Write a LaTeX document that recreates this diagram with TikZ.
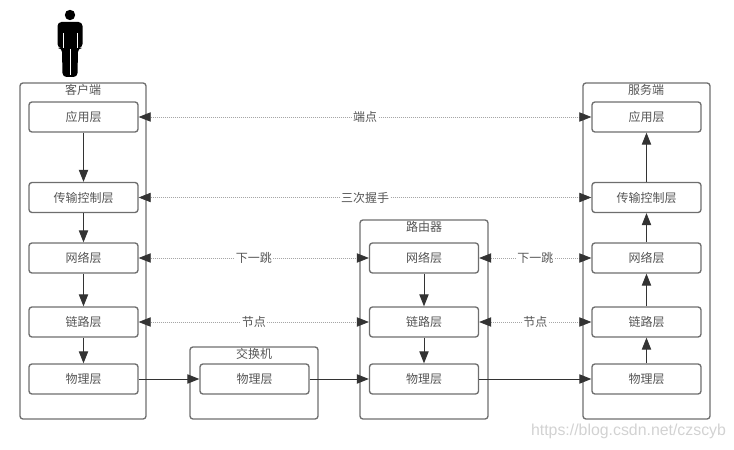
\documentclass[tikz,border=0pt]{standalone}
\usepackage{fontspec}
\setmainfont{Noto Sans CJK SC}
\newfontfamily\markfont{Liberation Sans}
\usetikzlibrary{arrows.meta}
\definecolor{edgegray}{HTML}{6E6E6E}
\definecolor{textgray}{HTML}{555555}
\definecolor{linkgray}{HTML}{333333}
\tikzset{%
	device/.style={
		draw=edgegray,
		line width=1pt,
		rounded corners=2.2pt,
		inner sep=0pt
	},
	layer/.style={
		device,
		fill=white,
		text=textgray,
		font=\fontsize{9pt}{9pt}\selectfont,
		minimum width=81.75pt,
		minimum height=22.5pt
	},
	title/.style={
		text=textgray,
		inner sep=0pt,
		font=\fontsize{9pt}{9pt}\selectfont
	},
	flow/.style={
		draw=linkgray,
		line width=0.7pt,
		-{Triangle[length=9pt,width=7pt]}
	},
	peer/.style={
		draw=gray!70,
		line width=0.5pt,
		densely dotted,
		{Triangle[length=9pt,width=7pt,color=linkgray]}-{Triangle[length=9pt,width=7pt,color=linkgray]}
	},
	peer label/.style={
		fill=white,
		text=textgray,
		inner sep=1pt,
		font=\fontsize{9pt}{9pt}\selectfont
	},
}
\begin{document}
\begin{tikzpicture}[x=0.75pt,y=-0.75pt]
			\useasboundingbox (0,0) rectangle (734,449);
			
			\fill[black] (70,15) circle (5.2);
			\fill[black, rounded corners=3pt] (57.5,48) -- (57.5,22) -- (82.5,22) -- (82.5,48) -- (78,48) -- (77.5,77) -- (62.5,77) -- (62,48) -- cycle;
			\draw[white, line width=0.6pt] (70,49) -- (70,75);
			\draw[white, line width=0.6pt] (63,33) -- (63,48);
			\draw[white, line width=0.6pt] (77,33) -- (77,48);
			
			\node[device, minimum width=94.5pt, minimum height=252pt] (client) at (83,251) {};
			\node[device, minimum width=95.25pt, minimum height=252pt] (server) at (646.5,251) {};
			\node[device, minimum width=96pt, minimum height=149.25pt] (router) at (424,319.5) {};
			\node[device, minimum width=96pt, minimum height=54pt] (switch) at (254,383) {};
			
			\node[title] (clientTitle) at (83,90) {客户端};
			\node[title] (serverTitle) at (646,90) {服务端};
			\node[title] (routerTitle) at (424,227) {路由器};
			\node[title] (switchTitle) at (254,354) {交换机};
			
			\node[layer] (clientApp) at (83.5,117) {应用层};
			\node[layer] (clientTrans) at (83.5,197.5) {传输控制层};
			\node[layer] (clientNet) at (83.5,258) {网络层};
			\node[layer] (clientLink) at (83.5,322) {链路层};
			\node[layer] (clientPhy) at (83.5,379) {物理层};
			
			\node[layer] (switchPhy) at (254.5,379) {物理层};
			
			\node[layer] (routerNet) at (424,258) {网络层};
			\node[layer] (routerLink) at (424,322) {链路层};
			\node[layer] (routerPhy) at (424,379) {物理层};
			
			\node[layer] (serverApp) at (646.5,117) {应用层};
			\node[layer] (serverTrans) at (646.5,197.5) {传输控制层};
			\node[layer] (serverNet) at (646.5,258) {网络层};
			\node[layer] (serverLink) at (646.5,322) {链路层};
			\node[layer] (serverPhy) at (646.5,379) {物理层};
			
			\draw[flow] (clientApp) -- (clientTrans);
			\draw[flow] (clientTrans) -- (clientNet);
			\draw[flow] (clientNet) -- (clientLink);
			\draw[flow] (clientLink) -- (clientPhy);
			\draw[flow] (clientPhy) -- (switchPhy);
			\draw[flow] (switchPhy) -- (routerPhy);
			\draw[flow] (routerNet) -- (routerLink);
			\draw[flow] (routerLink) -- (routerPhy);
			\draw[flow] (routerPhy) -- (serverPhy);
			\draw[flow] (serverPhy) -- (serverLink);
			\draw[flow] (serverLink) -- (serverNet);
			\draw[flow] (serverNet) -- (serverTrans);
			\draw[flow] (serverTrans) -- (serverApp);
			
			\draw[peer] (clientApp) -- node[peer label] (appLabel) {端点} (serverApp);
			\draw[peer] (clientTrans) -- node[peer label] (transLabel) {三次握手} (serverTrans);
			\draw[peer] (clientNet) -- node[peer label] (netLabelA) {下一跳} (routerNet);
			\draw[peer] (routerNet) -- node[peer label] (netLabelB) {下一跳} (serverNet);
			\draw[peer] (clientLink) -- node[peer label] (linkLabelA) {节点} (routerLink);
			\draw[peer] (routerLink) -- node[peer label] (linkLabelB) {节点} (serverLink);
			
			\node[text=gray!35, inner sep=0pt, font=\markfont\fontsize{11.9pt}{11.9pt}\selectfont] (mark) at (628.5,431) {https://blog.csdn.net/czscyb};
		\end{tikzpicture}
\end{document}
